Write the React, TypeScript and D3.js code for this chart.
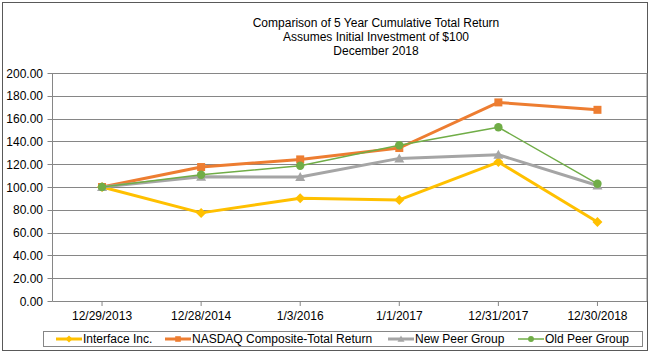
import React from "react";
import * as d3 from "d3";

const categories = ["12/29/2013", "12/28/2014", "1/3/2016", "1/1/2017", "12/31/2017", "12/30/2018"];
const interfaceInc = [100, 77.3, 90.1, 88.7, 121.9, 69.3];
const nasdaq = [100, 117.5, 124.2, 134.2, 174.2, 167.7];
const newPeer = [100, 109.0, 108.7, 125.1, 128.3, 101.3];
const oldPeer = [100, 110.7, 118.7, 136.6, 152.4, 102.8];
const yTicks = [0, 20, 40, 60, 80, 100, 120, 140, 160, 180, 200];
const titleLines = ["Comparison of 5 Year Cumulative Total Return", "Assumes Initial Investment of $100", "December 2018"];

type Series = { name: string; values: number[]; color: string; width: number; marker: string; legendX: number };

const series: Series[] = [
  { name: "Interface Inc.", values: interfaceInc, color: "#FFC000", width: 3, marker: "diamond", legendX: 56 },
  { name: "NASDAQ Composite-Total Return", values: nasdaq, color: "#ED7D31", width: 3, marker: "square", legendX: 165 },
  { name: "New Peer Group", values: newPeer, color: "#A5A5A5", width: 3, marker: "triangle", legendX: 388 },
  { name: "Old Peer Group", values: oldPeer, color: "#70AD47", width: 1.5, marker: "circle", legendX: 518 },
];

const W = 650, H = 354;
const left = 52.5, right = 647, top = 73, bottom = 301;
const font = "'Liberation Sans', Arial, sans-serif";

function Marker({ type, x, y, color, scale = 1 }: { type: string; x: number; y: number; color: string; scale?: number }) {
  const s = scale;
  if (type === "diamond") {
    const r = 5 * s;
    return <path d={`M${x},${y - r}L${x + r},${y}L${x},${y + r}L${x - r},${y}Z`} fill={color} />;
  }
  if (type === "square") {
    const r = 4 * s;
    return <rect x={x - r} y={y - r} width={2 * r} height={2 * r} fill={color} />;
  }
  if (type === "triangle") {
    const r = 5 * s;
    return <path d={`M${x},${y - r}L${x + r},${y + r * 0.8}L${x - r},${y + r * 0.8}Z`} fill={color} />;
  }
  return <circle cx={x} cy={y} r={4.2 * s} fill={color} />;
}

export default function App() {
  const x = d3.scaleBand<string>().domain(categories).range([left, right]);
  const y = d3.scaleLinear().domain([0, 200]).range([bottom, top]);
  const cx = (c: string) => (x(c) as number) + x.bandwidth() / 2;
  const line = d3
    .line<number>()
    .x((_, i) => cx(categories[i]))
    .y((d) => y(d));

  return (
    <svg width={W} height={H} style={{ position: "absolute", left: 0, top: 0, fontFamily: font }}>
      <rect x={0} y={0} width={W} height={H} fill="#fff" />
      <rect x={2.5} y={2.5} width={645} height={348} fill="none" stroke="#595959" strokeWidth={1} />
      {titleLines.map((t, i) => (
        <text key={i} x={376} y={27 + i * 14} fontSize={12} textAnchor="middle" fill="#000">
          {t}
        </text>
      ))}
      {yTicks.map((t) => (
        <g key={t}>
          <line x1={left} x2={right} y1={Math.round(y(t)) + 0.5} y2={Math.round(y(t)) + 0.5} stroke="#868686" strokeWidth={1} />
          <line x1={left - 5} x2={left} y1={Math.round(y(t)) + 0.5} y2={Math.round(y(t)) + 0.5} stroke="#868686" />
          <text x={43} y={y(t) + 4.5} fontSize={12} textAnchor="end" fill="#000">
            {t.toFixed(2)}
          </text>
        </g>
      ))}
      <line x1={left} x2={left} y1={top} y2={bottom + 0.5} stroke="#868686" />
      <line x1={right} x2={right} y1={top} y2={bottom} stroke="#868686" />
      {categories.map((c) => (
        <g key={c}>
          <line x1={cx(c)} x2={cx(c)} y1={bottom} y2={bottom + 5} stroke="#868686" />
          <text x={cx(c)} y={320} fontSize={12} textAnchor="middle" fill="#000">
            {c}
          </text>
        </g>
      ))}
      {series.map((s) => (
        <g key={s.name}>
          <path d={line(s.values) || ""} fill="none" stroke={s.color} strokeWidth={s.width} strokeLinejoin="round" />
          {s.values.map((v, i) => (
            <Marker key={i} type={s.marker} x={cx(categories[i])} y={y(v)} color={s.color} />
          ))}
        </g>
      ))}
      <rect x={43.5} y={331.5} width={599} height={15} fill="#fff" stroke="#868686" />
      {series.map((s) => (
        <g key={"lg" + s.name}>
          <line x1={s.legendX} x2={s.legendX + 26} y1={339} y2={339} stroke={s.color} strokeWidth={s.width} />
          <Marker type={s.marker} x={s.legendX + 13} y={339} color={s.color} scale={0.7} />
          <text x={s.legendX + 27} y={343} fontSize={12} fill="#000">
            {s.name}
          </text>
        </g>
      ))}
    </svg>
  );
}
